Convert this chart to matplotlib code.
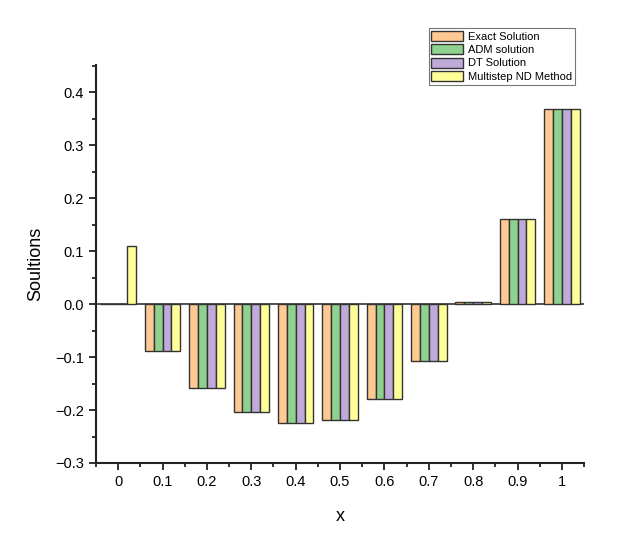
import numpy as np
import matplotlib.pyplot as plt
from matplotlib.ticker import MultipleLocator

plt.rcParams['font.family'] = ['Liberation Sans', 'DejaVu Sans']

x_labels = ["0", "0.1", "0.2", "0.3", "0.4", "0.5", "0.6", "0.7", "0.8", "0.9", "1"]
exact = [0.0, -0.089, -0.158, -0.204, -0.225, -0.218, -0.180, -0.107, 0.004, 0.161, 0.368]
adm = [0.0, -0.089, -0.158, -0.204, -0.225, -0.218, -0.180, -0.107, 0.004, 0.161, 0.368]
dt = [0.0, -0.089, -0.158, -0.204, -0.225, -0.218, -0.180, -0.107, 0.004, 0.161, 0.368]
multistep = [0.110, -0.089, -0.158, -0.204, -0.225, -0.218, -0.180, -0.107, 0.004, 0.161, 0.368]

series = [
    ("Exact Solution", exact, "#FFC994"),
    ("ADM solution", adm, "#8FD18F"),
    ("DT Solution", dt, "#C0AADA"),
    ("Multistep ND Method", multistep, "#FFFF99"),
]

fig = plt.figure(figsize=(6.17, 5.35), dpi=100)
ax = fig.add_axes([0.1556, 0.1346, 0.791, 0.7444])

pos = np.arange(len(x_labels))
w = 0.2
for i, (name, vals, col) in enumerate(series):
    ax.bar(pos + (i - 1.5) * w, vals, width=w, color=col, edgecolor="#333333",
           linewidth=1.0, label=name)

ax.axhline(0, color="#333333", linewidth=1.2, zorder=0)

ax.set_xlim(-0.5, len(x_labels) - 0.5)
ax.set_ylim(-0.3, 0.452)
ax.set_xticks(pos)
ax.set_xticklabels(x_labels)
ax.xaxis.set_minor_locator(MultipleLocator(0.5))
ax.yaxis.set_major_locator(MultipleLocator(0.1))
ax.yaxis.set_minor_locator(MultipleLocator(0.05))
ax.yaxis.set_major_formatter(plt.FuncFormatter(lambda v, p: f"{v:.1f}".replace("-", "\u2212")))

for s in ["top", "right"]:
    ax.spines[s].set_visible(False)
for s in ["left", "bottom"]:
    ax.spines[s].set_linewidth(1.5)
    ax.spines[s].set_color("#222222")

ax.tick_params(which="major", direction="out", length=5, width=1.3, labelsize=10.5, color="#222222")
ax.tick_params(which="minor", direction="out", length=3, width=1.3, color="#222222")

ax.set_xlabel("x", fontsize=13, labelpad=14)
ax.set_ylabel("Soultions", fontsize=13, labelpad=8)

leg = ax.legend(loc="upper right", bbox_to_anchor=(575 / 617, 1 - 28 / 535),
                bbox_transform=fig.transFigure, fontsize=8, frameon=True, fancybox=False,
                edgecolor="#555555", handlelength=2.8, handleheight=1.05,
                labelspacing=0.22, handletextpad=0.5, borderpad=0.25, borderaxespad=0)
leg.get_frame().set_linewidth(0.8)

fig.savefig("out.png", dpi=100)
